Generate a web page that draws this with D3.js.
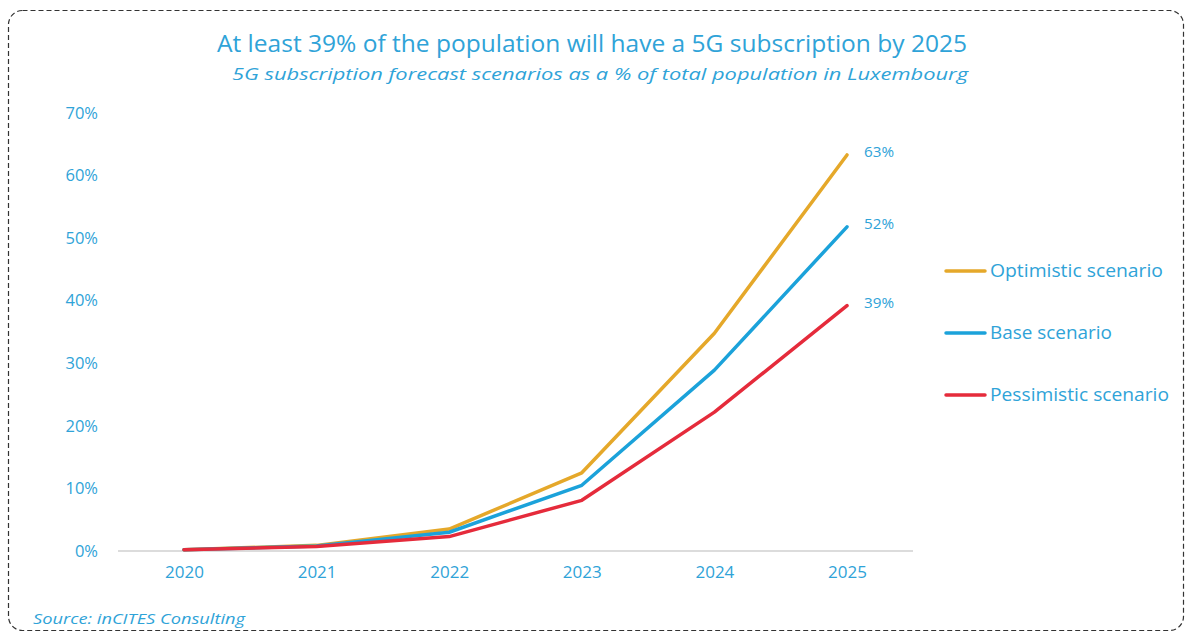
<!DOCTYPE html>
<html><head><meta charset="utf-8">
<script src="https://cdn.jsdelivr.net/npm/d3@7/dist/d3.min.js"></script>
<style>body{margin:0;background:#fff;}svg{display:block;}</style>
</head><body>
<svg id="c" width="1190" height="637"></svg>
<script>
const years = ["2020","2021","2022","2023","2024","2025"];
const optimistic = [0.2, 0.9, 3.5, 12.5, 34.8, 63.3];
const base = [0.2, 0.8, 3.0, 10.5, 28.9, 51.8];
const pessimistic = [0.2, 0.7, 2.3, 8.1, 22.2, 39.2];
const seriesNames = ["Optimistic scenario", "Base scenario", "Pessimistic scenario"];
const endLabels = ["63%", "52%", "39%"];
const yTicks = [0,10,20,30,40,50,60,70];
const colors = ["#E5A82A", "#1BA2DA", "#E52B3B"];
const txt = "#2FA3D8";
const FONT = "'Open Sans', 'Noto Sans', sans-serif";

const svg = d3.select("#c");
svg.append("rect").attr("x",8.5).attr("y",10.5).attr("width",1175).attr("height",620)
  .attr("rx",14).attr("fill","none").attr("stroke","#333").attr("stroke-width",1.2)
  .attr("stroke-dasharray","5,3");

svg.append("text").attr("x",592).attr("y",52).attr("text-anchor","middle")
  .attr("font-family",FONT).attr("font-size",23).attr("fill",txt)
  .attr("textLength",750).attr("lengthAdjust","spacingAndGlyphs")
  .text("At least 39% of the population will have a 5G subscription by 2025");
svg.append("text").attr("x",600).attr("y",80).attr("text-anchor","middle")
  .attr("font-family",FONT).attr("font-size",17).attr("font-style","italic").attr("fill",txt)
  .attr("textLength",736).attr("lengthAdjust","spacingAndGlyphs")
  .text("5G subscription forecast scenarios as a % of total population in Luxembourg");

const x = d3.scalePoint().domain(years).range([184, 847]);
const y = d3.scaleLinear().domain([0,70]).range([551, 113]);

svg.append("line").attr("x1",118).attr("x2",913).attr("y1",y(0)).attr("y2",y(0))
  .attr("stroke","#d0d0d0").attr("stroke-width",1.3);

const yAxis = svg.append("g").attr("transform","translate(98,0)")
  .call(d3.axisLeft(y).tickValues(yTicks).tickSize(0).tickPadding(0).tickFormat(d=>d+"%"));
yAxis.select(".domain").remove();
yAxis.selectAll("text").attr("font-family",FONT).attr("font-size",16.5).attr("fill",txt);

const xAxis = svg.append("g").attr("transform","translate(0,566)")
  .call(d3.axisBottom(x).tickSize(0).tickPadding(0));
xAxis.select(".domain").remove();
xAxis.selectAll("text").attr("font-family",FONT).attr("font-size",17).attr("fill",txt).attr("dy","0.71em");

const data = [optimistic, base, pessimistic];
const line = d3.line().x((d,i)=>x(years[i])).y(d=>y(d));
data.forEach((s,k)=>{
  svg.append("path").datum(s).attr("d",line).attr("fill","none")
    .attr("stroke",colors[k]).attr("stroke-width",3.5).attr("stroke-linecap","round").attr("stroke-linejoin","round");
  svg.append("text").attr("x",x("2025")+17).attr("y",y(s[5])+2)
    .attr("font-family",FONT).attr("font-size",14).attr("fill",txt)
    .attr("textLength",30).attr("lengthAdjust","spacingAndGlyphs").text(endLabels[k]);
});

const legendWidths = [173, 122, 179];
seriesNames.forEach((n,k)=>{
  const ly = 271 + k*62;
  svg.append("line").attr("x1",946).attr("x2",985).attr("y1",ly).attr("y2",ly)
    .attr("stroke",colors[k]).attr("stroke-width",3.5).attr("stroke-linecap","round");
  svg.append("text").attr("x",990).attr("y",ly+6).attr("font-family",FONT).attr("font-size",17.5)
    .attr("fill",txt).attr("textLength",legendWidths[k]).attr("lengthAdjust","spacingAndGlyphs").text(n);
});

svg.append("text").attr("x",33).attr("y",624).attr("font-family",FONT).attr("font-size",15)
  .attr("font-style","italic").attr("fill",txt)
  .attr("textLength",212).attr("lengthAdjust","spacingAndGlyphs").text("Source: inCITES Consulting");
</script>
</body></html>
